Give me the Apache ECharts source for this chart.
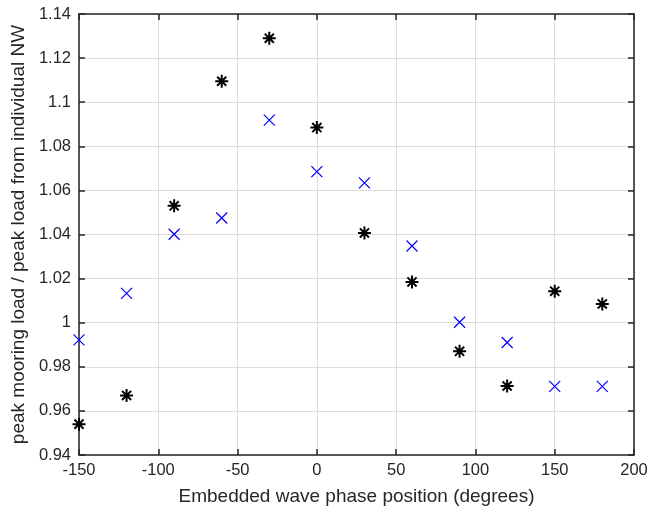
<!DOCTYPE html>
<html><head><meta charset="utf-8">
<script src="https://cdn.jsdelivr.net/npm/echarts@6/dist/echarts.min.js"></script>
<style>html,body{margin:0;padding:0;background:#fff}#c{width:662px;height:511px}</style>
</head><body><div id="c"></div>
<script>
var phases = [-150, -120, -90, -60, -30, 0, 30, 60, 90, 120, 150, 180];
var starValues = [0.954, 0.967, 1.053, 1.1095, 1.129, 1.0885, 1.0407, 1.0185, 0.987, 0.9713, 1.0143, 1.0085];
var crossValues = [0.9922, 1.0133, 1.0401, 1.0475, 1.0919, 1.0685, 1.0634, 1.0348, 1.0002, 0.991, 0.9711, 0.9711];
var xTitle = 'Embedded wave phase position (degrees)';
var yTitle = 'peak mooring load / peak load from individual NW';

var font = 'Liberation Sans, Arial, sans-serif';
var axisCol = '#262626';
function pairs(xs, ys){ return xs.map(function(x,i){return [x, ys[i]];}); }
var starPath = 'path://M0,-6L0,6M-6,0L6,0M-4.2,-4.2L4.2,4.2M-4.2,4.2L4.2,-4.2';
var crossPath = 'path://M-5,-5L5,5M-5,5L5,-5';

var baseAxis = {
  axisLine:{show:true,onZero:false,lineStyle:{color:axisCol,width:1.5}},
  axisTick:{show:true,inside:true,length:6,lineStyle:{color:axisCol,width:1.5}},
  splitLine:{show:false}
};
var chart = echarts.init(document.getElementById('c'), null, {renderer:'canvas'});
chart.setOption({
  animation:false,
  grid:{left:79,right:28,top:14,bottom:56,containLabel:false},
  xAxis:[
    Object.assign({}, baseAxis, {type:'value',min:-150,max:200,interval:50,position:'bottom',
      name:xTitle,nameLocation:'middle',nameGap:32,
      nameTextStyle:{fontFamily:font,fontSize:19,color:axisCol},
      axisLabel:{fontFamily:font,fontSize:16.5,color:axisCol,margin:7},
      splitLine:{show:true,lineStyle:{color:'#dcdcdc',width:1}}}),
    Object.assign({}, baseAxis, {type:'value',min:-150,max:200,interval:50,position:'top',
      axisLabel:{show:false}})
  ],
  yAxis:[
    Object.assign({}, baseAxis, {type:'value',min:0.94,max:1.14,interval:0.02,position:'left',
      name:yTitle,nameLocation:'middle',nameGap:47,
      nameTextStyle:{fontFamily:font,fontSize:19,color:axisCol},
      axisLabel:{fontFamily:font,fontSize:16.5,color:axisCol,margin:8,
        formatter:function(v){return String(+v.toFixed(2));}},
      splitLine:{show:true,lineStyle:{color:'#dcdcdc',width:1}}}),
    Object.assign({}, baseAxis, {type:'value',min:0.94,max:1.14,interval:0.02,position:'right',
      axisLabel:{show:false}})
  ],
  series:[
    {type:'scatter',xAxisIndex:0,yAxisIndex:0,data:pairs(phases,crossValues),
     symbol:crossPath,symbolSize:11,
     itemStyle:{color:'rgba(0,0,0,0)',borderColor:'#0000ff',borderWidth:1.2,opacity:1}},
    {type:'scatter',xAxisIndex:0,yAxisIndex:0,data:pairs(phases,starValues),
     symbol:starPath,symbolSize:13,
     itemStyle:{color:'rgba(0,0,0,0)',borderColor:'#000000',borderWidth:2,opacity:1}}
  ]
});
</script></body></html>
